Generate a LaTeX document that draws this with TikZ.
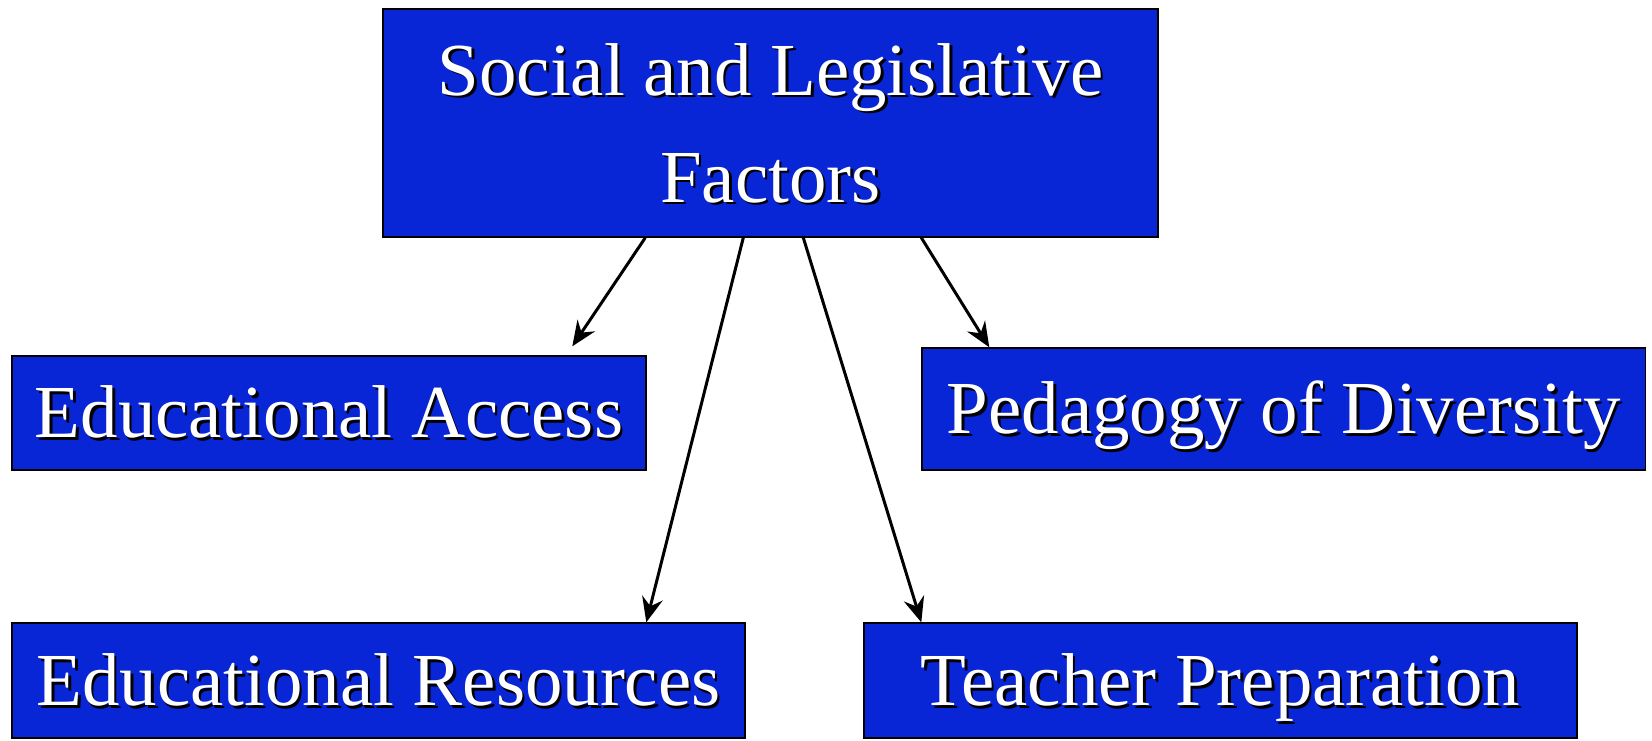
\documentclass[tikz,border=0pt]{standalone}
\usepackage{fontspec}
\setmainfont{Liberation Serif}
\usetikzlibrary{arrows.meta}
\definecolor{boxBlue}{RGB}{8,38,214}
\newcommand{\shad}[1]{\makebox[0pt][l]{\kern0.05cm\raisebox{-0.05cm}[0pt][0pt]{\color{black}#1}}{\color{white}#1}}
\begin{document}
\begin{tikzpicture}
[boxDecorate/.style={shape=rectangle,draw=black,line width=0.8pt,fill=boxBlue,
   inner sep=0pt,font=\fontsize{42.6}{61}\selectfont},
  singleDecorate/.style={boxDecorate,text height=1cm,text depth=0cm},
  arrowDecorate/.style={line width=1.7pt,-{Stealth[length=0.5cm,width=0.42cm,inset=0.17cm]}}]
\useasboundingbox (0,0) rectangle (33.04,14.8);
%% boxes
\node (top) at (15.41,12.34) [boxDecorate,minimum width=15.5cm,minimum height=4.56cm,
  align=center] {\shad{Social and Legislative}\\\shad{Factors}};
\foreach \nodename/\x/\y/\w/\h/\txt in {
  acc/6.58/6.54/12.68/2.28/Educational Access,
  ped/25.675/6.62/14.47/2.44/Pedagogy of Diversity,
  res/7.57/1.19/14.66/2.30/Educational Resources,
  tea/24.41/1.19/14.26/2.30/Teacher Preparation}
{
  \node (\nodename) at (\x,\y) [singleDecorate,minimum width=\w cm,minimum height=\h cm] {\shad{\txt}};
}
%% arrows
\foreach \sx/\endnode/\ex/\ey in {
  5.26/acc/11.22/0.18, 7.22/res/12.70/0, 8.42/tea/1.16/0, 10.78/ped/1.36/0}
{
  \draw[arrowDecorate] ([xshift=\sx cm]top.south west) -- ([xshift=\ex cm,yshift=\ey cm]\endnode.north west);
}
\end{tikzpicture}
\end{document}
